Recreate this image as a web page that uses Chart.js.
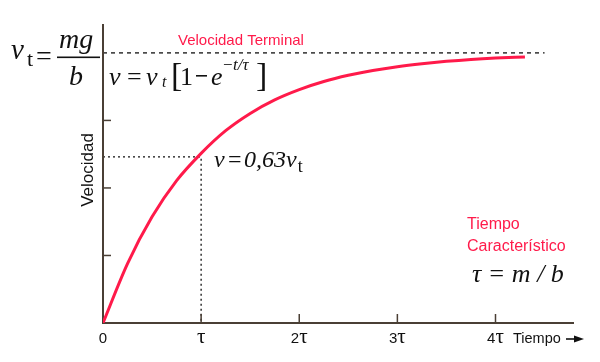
<!DOCTYPE html>
<html><head><meta charset="utf-8">
<script src="https://cdn.jsdelivr.net/npm/chart.js@4.4.1/dist/chart.umd.min.js"></script>
<style>html,body{margin:0;padding:0;background:#fff}#wrap{width:600px;height:362px}</style>
</head><body><div id="wrap"><canvas id="c" width="600" height="362"></canvas></div>
<script>
// time in units of tau, velocity in units of v_t
const times = [0, 0.25, 0.5, 0.75, 1.0, 1.25, 1.5, 1.75, 2.0, 2.25, 2.5, 2.75, 3.0, 3.25, 3.5, 3.75, 4.0, 4.3];
const velocity = [0, 0.22, 0.393, 0.527, 0.628, 0.712, 0.776, 0.826, 0.864, 0.894, 0.917, 0.935, 0.949, 0.960, 0.969, 0.976, 0.981, 0.985];
const xTickValues = [0, 1, 2, 3, 4];
const xTickLabels = ["0", "τ", "2τ", "3τ", "4τ"];
const yTickValues = [0.25, 0.5, 0.75];
const terminalValue = 1.0;
const markT = 1.0, markV = 0.615;

const AX = '#4a3f35';
const RED = '#ff1a4a';
const SERIF = '"Liberation Serif", "Times New Roman", serif';
const SANS = '"Liberation Sans", Arial, sans-serif';

const deco = {
  id: 'deco',
  beforeDatasetsDraw(chart) {
    const ctx = chart.ctx, xs = chart.scales.x, ys = chart.scales.y;
    const x0 = xs.getPixelForValue(0), y0 = ys.getPixelForValue(0);
    const ca = chart.chartArea;
    ctx.save();
    // terminal dashed line
    ctx.strokeStyle = '#111'; ctx.lineWidth = 1.3; ctx.setLineDash([4, 4]);
    const yt = ys.getPixelForValue(terminalValue);
    ctx.beginPath(); ctx.moveTo(x0, yt); ctx.lineTo(xs.getPixelForValue(4.5), yt); ctx.stroke();
    // dotted 0.63 lines
    ctx.setLineDash([2, 3]); ctx.lineWidth = 1.3;
    const xm = xs.getPixelForValue(markT), ym = ys.getPixelForValue(markV);
    ctx.beginPath(); ctx.moveTo(x0, ym); ctx.lineTo(xm, ym); ctx.lineTo(xm, y0); ctx.stroke();
    ctx.setLineDash([]);
    // axes
    ctx.strokeStyle = AX; ctx.lineWidth = 2;
    ctx.beginPath(); ctx.moveTo(x0, ca.top); ctx.lineTo(x0, y0); ctx.lineTo(ca.right, y0); ctx.stroke();
    ctx.lineWidth = 1.5;
    xTickValues.forEach(v => { if (v === 0) return; const px = xs.getPixelForValue(v);
      ctx.beginPath(); ctx.moveTo(px, y0); ctx.lineTo(px, y0 - 9); ctx.stroke(); });
    yTickValues.forEach(v => { const py = ys.getPixelForValue(v);
      ctx.beginPath(); ctx.moveTo(x0, py); ctx.lineTo(x0 + 8, py); ctx.stroke(); });
    // tick labels
    ctx.fillStyle = '#111'; ctx.textBaseline = 'alphabetic';
    xTickValues.forEach((v, i) => {
      const lab = xTickLabels[i], px = xs.getPixelForValue(v);
      const num = lab.replace('τ', ''), hasTau = lab.includes('τ');
      ctx.font = '15px ' + SANS; const wn = ctx.measureText(num).width;
      ctx.font = '21px ' + SERIF; const wt = hasTau ? ctx.measureText('τ').width : 0;
      let sx = px - (wn + wt) / 2;
      ctx.textAlign = 'left';
      ctx.font = '15px ' + SANS; ctx.fillText(num, sx, 343);
      if (hasTau) { ctx.font = '21px ' + SERIF; ctx.fillText('τ', sx + wn, 343); }
    });
    ctx.font = '14.5px ' + SANS; ctx.textAlign = 'left';
    ctx.fillText('Tiempo', 513, 343);
    ctx.lineWidth = 1.6; ctx.strokeStyle = '#111';
    ctx.beginPath(); ctx.moveTo(566, 339); ctx.lineTo(576, 339); ctx.stroke();
    ctx.beginPath(); ctx.moveTo(584, 339); ctx.lineTo(574, 335.5); ctx.lineTo(574, 342.5); ctx.closePath(); ctx.fill();
    // y title
    ctx.save(); ctx.translate(93, 170); ctx.rotate(-Math.PI / 2);
    ctx.font = '17px ' + SANS; ctx.textAlign = 'center'; ctx.fillText('Velocidad', 0, 0); ctx.restore();
    // v_t = mg/b
    ctx.textAlign = 'left';
    ctx.font = 'italic 29px ' + SERIF; ctx.fillText('v', 11, 59);
    ctx.font = '22px ' + SERIF; ctx.fillText('t', 27, 66);
    ctx.font = '28px ' + SERIF; ctx.fillText('=', 36, 65);
    ctx.font = 'italic 28px ' + SERIF; ctx.fillText('mg', 59, 48);
    ctx.fillText('b', 69, 85);
    ctx.fillRect(57, 56.5, 43, 1.6);
    // v = v_t [1 - e^{-t/tau}]
    ctx.font = 'italic 26px ' + SERIF; ctx.fillText('v', 109, 85);
    ctx.font = '26px ' + SERIF; ctx.fillText('=', 127, 85);
    ctx.font = 'italic 26px ' + SERIF; ctx.fillText('v', 146, 85);
    ctx.font = 'italic 16px ' + SERIF; ctx.fillText('t', 162, 87);
    ctx.font = '34px ' + SERIF; ctx.fillText('[', 171, 86);
    ctx.font = '26px ' + SERIF; ctx.fillText('1', 180, 85);
    ctx.fillRect(196, 75, 11, 1.6);
    ctx.font = 'italic 26px ' + SERIF; ctx.fillText('e', 211, 85);
    ctx.font = '17px ' + SERIF; ctx.fillText('−', 223, 70);
    ctx.font = 'italic 17px ' + SERIF; ctx.fillText('t/τ', 233, 70);
    ctx.font = '34px ' + SERIF; ctx.fillText(']', 256, 86);
    // Velocidad Terminal
    ctx.fillStyle = RED; ctx.font = '15px ' + SANS; ctx.fillText('Velocidad Terminal', 178, 45);
    // v = 0,63 v_t
    ctx.fillStyle = '#111';
    ctx.font = 'italic 24px ' + SERIF; ctx.fillText('v', 214, 167);
    ctx.font = '24px ' + SERIF; ctx.fillText('=', 228, 167);
    ctx.font = 'italic 24px ' + SERIF; ctx.fillText('0,63v', 244, 167);
    const w63 = ctx.measureText('0,63v').width;
    ctx.font = '18px ' + SERIF; ctx.fillText('t', 244 + w63 + 1, 172);
    // Tiempo Caracteristico
    ctx.fillStyle = RED; ctx.font = '16px ' + SANS;
    ctx.fillText('Tiempo', 467, 229); ctx.fillText('Característico', 467, 251);
    ctx.fillStyle = '#111'; ctx.font = 'italic 26px ' + SERIF;
    ctx.fillText('τ = m / b', 472, 282);
    ctx.restore();
  }
};

new Chart(document.getElementById('c'), {
  type: 'line',
  data: { datasets: [{
    data: times.map((t, i) => ({ x: t, y: velocity[i] })),
    borderColor: RED, borderWidth: 3, pointRadius: 0, fill: false,
    cubicInterpolationMode: 'monotone'
  }]},
  options: {
    responsive: false, animation: false, devicePixelRatio: 1,
    layout: { padding: { left: 103, right: 26, top: 24, bottom: 39 } },
    plugins: { legend: { display: false }, tooltip: { enabled: false } },
    scales: {
      x: { type: 'linear', min: 0, max: 4.8, display: false },
      y: { type: 'linear', min: 0, max: 1.107, display: false }
    }
  },
  plugins: [deco]
});
</script></body></html>
